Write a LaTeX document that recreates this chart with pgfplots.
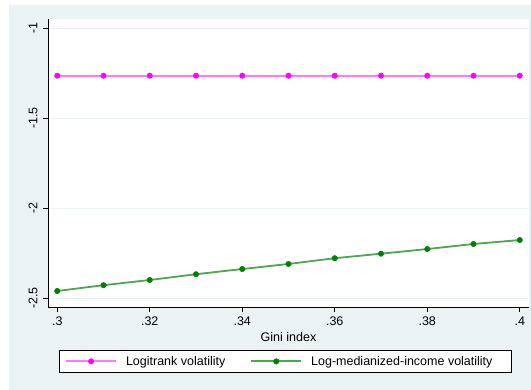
\documentclass[border=0pt]{standalone}
\usepackage{fontspec}
\setmainfont{Liberation Sans}
\usepackage{pgfplots}
\pgfplotsset{compat=1.18}
\definecolor{bg}{RGB}{234,242,243}
\definecolor{gridc}{RGB}{234,242,243}
\definecolor{stgreen}{RGB}{0,128,0}
\definecolor{stgreenl}{RGB}{80,165,80}
\definecolor{stmag}{RGB}{255,0,255}
\definecolor{stmagl}{RGB}{255,120,255}
\begin{document}
\begin{tikzpicture}[x=1pt,y=1pt]
\useasboundingbox (0,0) rectangle (531,390);
\fill[white] (0,0) rectangle (531,390);
\fill[bg] (9,0) rectangle (531,385);
\begin{axis}[
  at={(48pt,83pt)}, anchor=south west,
  scale only axis, width=481pt, height=288pt,
  xmin=0.298, xmax=0.402, ymin=-2.55, ymax=-0.95,
  axis background/.style={fill=white},
  axis x line*=bottom, axis y line*=left,
  axis line style={black, line width=0.8pt, -},
  xtick={0.3,0.32,0.34,0.36,0.38,0.4},
  xticklabels={.3,.32,.34,.36,.38,.4},
  ytick={-2.5,-2,-1.5,-1},
  yticklabels={-2.5,-2,-1.5,-1},
  tick style={black, line width=0.8pt},
  major tick length=5pt, tick align=outside,
  ymajorgrids, grid style={gridc, line width=0.8pt},
  tick label style={font=\fontsize{12.5}{14}\selectfont},
  yticklabel style={rotate=90, anchor=south},
  yticklabel shift=2pt,
  xticklabel shift=1pt,
  xlabel={Gini index},
  label style={font=\fontsize{12.5}{14}\selectfont},
  legend columns=2,
  legend image code/.code={\draw[mark repeat=2,mark phase=2,#1] plot coordinates {(0pt,0pt) (25pt,0pt) (50pt,0pt)};},
  legend style={at={(0.0229,-0.149)}, anchor=north west, draw=black,
    font=\fontsize{12.5}{14}\selectfont, nodes={inner sep=0pt}, inner xsep=6pt, inner ysep=6pt,
    /tikz/column 1/.style={column sep=9pt},
    /tikz/column 2/.style={column sep=25pt},
    /tikz/column 3/.style={column sep=9pt},
    /tikz/column 4/.style={column sep=0pt}},
  legend cell align=left,
]
\addplot+[color=stmagl, solid, line width=1.8pt, mark=*, mark size=2.7pt, mark options={solid, line width=0.5pt, fill=stmag, draw=stmag}]
coordinates {(0.30,-1.265) (0.31,-1.265) (0.32,-1.265) (0.33,-1.265) (0.34,-1.265) (0.35,-1.265) (0.36,-1.265) (0.37,-1.265) (0.38,-1.265) (0.39,-1.265) (0.40,-1.265)};
\addlegendentry{Logitrank volatility}
\addplot+[color=stgreenl, solid, line width=1.8pt, mark=*, mark size=2.7pt, mark options={solid, line width=0.5pt, fill=stgreen, draw=stgreen}]
coordinates {(0.30,-2.461) (0.31,-2.429) (0.32,-2.400) (0.33,-2.368) (0.34,-2.339) (0.35,-2.311) (0.36,-2.279) (0.37,-2.254) (0.38,-2.228) (0.39,-2.200) (0.40,-2.178)};
\addlegendentry{Log-medianized-income volatility\hspace*{13pt}}
\end{axis}
\end{tikzpicture}
\end{document}
